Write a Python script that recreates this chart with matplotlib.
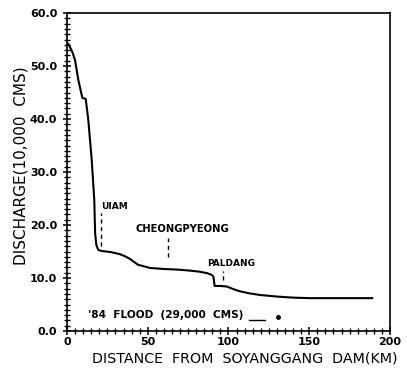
import matplotlib
matplotlib.use("Agg")
import matplotlib.pyplot as plt
from matplotlib.ticker import MultipleLocator, FixedLocator

# Discharge profile ('84 flood) along the river
distance_km = [0.0, 0.8, 2.0, 3.5, 5.0, 7.0, 9.5, 11.6, 13.2, 15.3, 16.9,
               17.4, 18.2, 19.4, 21.5, 27.0, 32.8, 36.0, 39.0, 44.0, 51.4,
               60.0, 68.0, 76.0, 82.0, 87.0, 89.6, 90.6, 91.0, 91.4, 95.0,
               98.9, 103.0, 107.0, 113.0, 119.5, 130.0, 140.0, 150.0, 161.0,
               175.0, 189.0]
discharge = [54.3, 54.2, 53.5, 52.5, 51.1, 47.4, 44.0, 43.8, 39.8, 32.3,
             24.7, 18.5, 16.2, 15.3, 15.1, 14.9, 14.5, 14.1, 13.6, 12.5,
             11.9, 11.7, 11.6, 11.4, 11.2, 10.9, 10.6, 10.3, 9.5, 8.5, 8.5,
             8.4, 7.9, 7.5, 7.1, 6.8, 6.5, 6.3, 6.2, 6.2, 6.2, 6.2]

# Station markers: name, distance, text position, dashed-marker extent
stations = ["UIAM", "CHEONGPYEONG", "PALDANG"]
station_km = [21.0, 62.7, 96.4]
station_text_x = [21.0, 71.5, 101.5]
station_text_y = [23.5, 19.2, 12.8]
station_text_ha = ["left", "center", "center"]
station_mark_top = [22.2, 17.6, 11.4]
station_mark_bottom = [16.0, 13.9, 9.6]

legend_text = "'84  FLOOD  (29,000  CMS)"
xticks = [0, 50, 100, 150, 200]
yticks = [0, 10, 20, 30, 40, 50, 60]
xlabel = "DISTANCE  FROM  SOYANGGANG  DAM(KM)"
ylabel = "DISCHARGE(10,000  CMS)"

fig = plt.figure(figsize=(4.07, 3.71), dpi=100)
ax = fig.add_axes([0.1646, 0.1078, 0.7936, 0.857])

ax.plot(distance_km, discharge, color="black", lw=1.5, solid_joinstyle="round")

for name, km, tx, ty, ha, top, bot in zip(stations, station_km, station_text_x,
                                         station_text_y, station_text_ha,
                                         station_mark_top, station_mark_bottom):
    ax.plot([km, km], [bot, top], color="black", lw=1.0, ls=(0, (3, 2.5)))
    fs = 7.2 if name == "CHEONGPYEONG" else 6.5
    ax.text(tx, ty, name, ha=ha, va="center", fontsize=fs,
            fontweight="bold", family="DejaVu Sans")

ax.text(13.0, 3.0, legend_text, ha="left", va="center", fontsize=7.6,
        fontweight="bold", family="DejaVu Sans")
ax.plot([113, 122.6], [2.1, 2.1], color="black", lw=1.0)
ax.plot([130.6], [2.6], marker="o", ms=2.5, color="black")

ax.set_xlim(0, 200)
ax.set_ylim(0, 60)
ax.xaxis.set_major_locator(FixedLocator(xticks))
ax.yaxis.set_major_locator(FixedLocator(yticks))
ax.xaxis.set_minor_locator(MultipleLocator(5))
ax.yaxis.set_minor_locator(MultipleLocator(1))
ax.set_xticklabels([str(v) for v in xticks])
ax.set_yticklabels(["%.1f" % v for v in yticks])
ax.tick_params(which="major", direction="inout", length=6, width=1.1,
               labelsize=8, pad=1)
ax.tick_params(axis="y", which="major", pad=4)
ax.tick_params(which="minor", direction="inout", length=4, width=1.0)
ax.tick_params(top=False, right=False, which="both")
for lab in ax.get_xticklabels() + ax.get_yticklabels():
    lab.set_fontweight("bold")
for s in ax.spines.values():
    s.set_linewidth(1.2)

ax.set_xlabel(xlabel, fontsize=10.3)
ax.set_ylabel(ylabel, fontsize=11)
ax.xaxis.set_label_coords(0.55, -0.066)
ax.yaxis.set_label_coords(-0.12, 0.52)

fig.savefig("out.png", dpi=100)
